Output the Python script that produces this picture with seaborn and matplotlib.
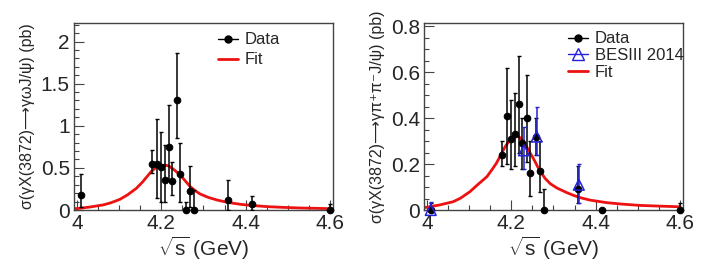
import numpy as np
import pandas as pd
import seaborn as sns
import matplotlib
matplotlib.use("Agg")
import matplotlib.pyplot as plt
from matplotlib.lines import Line2D
from matplotlib.ticker import MultipleLocator, FormatStrFormatter

# --- left panel: gamma omega J/psi ---
E_left = [4.009, 4.178, 4.189, 4.199, 4.209, 4.219, 4.226, 4.236, 4.244, 4.258, 4.267, 4.278, 4.358, 4.416, 4.600]
y_left = [0.18, 0.55, 0.55, 0.51, 0.36, 0.75, 0.34, 1.30, 0.43, 0.00, 0.23, 0.00, 0.12, 0.07, 0.00]
hi_left = [0.43, 0.71, 1.08, 0.93, 0.77, 1.25, 0.57, 1.86, 0.80, 0.10, 0.52, 0.24, 0.36, 0.17, 0.07]
lo_left = [0.04, 0.44, 0.14, 0.09, 0.09, 0.35, 0.18, 0.85, 0.10, 0.00, 0.04, 0.00, 0.00, 0.00, 0.00]

fit_x_left = [3.99, 4.007, 4.03, 4.062, 4.08, 4.102, 4.12, 4.141, 4.155, 4.165, 4.175, 4.185, 4.192, 4.2,
              4.207, 4.214, 4.22, 4.226, 4.232, 4.238, 4.244, 4.25, 4.256, 4.262, 4.268, 4.28, 4.292,
              4.311, 4.331, 4.35, 4.371, 4.39, 4.41, 4.45, 4.49, 4.529, 4.6]
fit_y_left = [0.015, 0.02, 0.035, 0.06, 0.085, 0.127, 0.18, 0.258, 0.33, 0.39, 0.45, 0.495, 0.515, 0.528,
              0.532, 0.528, 0.515, 0.495, 0.47, 0.445, 0.415, 0.385, 0.35, 0.315, 0.28, 0.23, 0.19,
              0.15, 0.12, 0.098, 0.08, 0.066, 0.056, 0.04, 0.031, 0.024, 0.016]

# --- right panel: gamma pi+ pi- J/psi ---
E_right = [4.009, 4.178, 4.189, 4.199, 4.209, 4.219, 4.226, 4.236, 4.244, 4.258, 4.267, 4.278, 4.358, 4.416, 4.600]
y_right = [0.00, 0.24, 0.41, 0.31, 0.33, 0.46, 0.29, 0.40, 0.16, 0.32, 0.17, 0.00, 0.09, 0.00, 0.00]
hi_right = [0.03, 0.30, 0.62, 0.48, 0.51, 0.67, 0.40, 0.59, 0.30, 0.40, 0.30, 0.09, 0.19, 0.00, 0.03]
lo_right = [0.00, 0.19, 0.20, 0.18, 0.19, 0.25, 0.18, 0.21, 0.06, 0.24, 0.08, 0.00, 0.03, 0.00, 0.00]

E_bes = [4.009, 4.230, 4.260, 4.360]
y_bes = [0.00, 0.26, 0.32, 0.11]
hi_bes = [0.035, 0.36, 0.45, 0.20]
lo_bes = [-0.03, 0.18, 0.24, 0.03]

fit_x_right = [3.99, 4.0, 4.03, 4.062, 4.08, 4.102, 4.12, 4.142, 4.155, 4.165, 4.175, 4.185, 4.192, 4.2,
               4.207, 4.214, 4.22, 4.226, 4.232, 4.238, 4.244, 4.25, 4.256, 4.262, 4.268, 4.28, 4.292,
               4.308, 4.33, 4.347, 4.365, 4.387, 4.426, 4.46, 4.505, 4.55, 4.6]
fit_y_right = [0.01, 0.012, 0.022, 0.036, 0.052, 0.08, 0.11, 0.145, 0.178, 0.205, 0.24, 0.275, 0.293, 0.31,
               0.325, 0.324, 0.316, 0.303, 0.288, 0.27, 0.25, 0.232, 0.212, 0.19, 0.17, 0.138, 0.115,
               0.096, 0.077, 0.064, 0.053, 0.043, 0.032, 0.026, 0.02, 0.017, 0.014]

sns.set_style("ticks")
plt.rcParams['font.family'] = ['Liberation Sans', 'DejaVu Sans']
plt.rcParams['mathtext.fontset'] = 'custom'
plt.rcParams['mathtext.rm'] = 'Liberation Sans'
plt.rcParams['mathtext.it'] = 'Liberation Sans'

fig = plt.figure(figsize=(7.05, 2.73), dpi=100)
ax1 = fig.add_axes([74 / 705, 63 / 273, 259 / 705, 187 / 273])
ax2 = fig.add_axes([424 / 705, 63 / 273, 259 / 705, 187 / 273])

RED = "#ee1111"
BLUE = "#2222dd"


def draw_points(ax, x, y, lo, hi, color, marker, filled, ms):
    y = np.array(y)
    yerr = [y - np.array(lo), np.array(hi) - y]
    ax.errorbar(x, y, yerr=yerr, fmt="none", ecolor=color, elinewidth=1.1,
                capsize=1.5, capthick=1, zorder=3)
    df = pd.DataFrame({"E": x, "sigma": y})
    sns.scatterplot(data=df, x="E", y="sigma", ax=ax, marker=marker, s=ms,
                    color=color if filled else "none", edgecolor=color,
                    linewidth=0.8 if filled else 1.1, zorder=4, clip_on=False, legend=False)


def style_axis(ax, ymax, ymajor, yminor, ylabel):
    ax.set_xlim(3.993, 4.607)
    ax.set_ylim(0, ymax)
    ax.xaxis.set_major_locator(MultipleLocator(0.2))
    ax.xaxis.set_minor_locator(MultipleLocator(0.05))
    ax.yaxis.set_major_locator(MultipleLocator(ymajor))
    ax.yaxis.set_minor_locator(MultipleLocator(yminor))
    ax.xaxis.set_major_formatter(FormatStrFormatter('%g'))
    ax.yaxis.set_major_formatter(FormatStrFormatter('%g'))
    ax.tick_params(which="both", direction="in", top=False, right=False, labelsize=15, width=0.8, color="#444444")
    ax.tick_params(which="major", length=7, pad=3)
    ax.tick_params(which="minor", length=3.5)
    for s in ax.spines.values():
        s.set_color("#444444")
        s.set_linewidth(1)
    ax.set_xlabel(r"$\sqrt{\mathrm{s}}$ (GeV)", fontsize=15, labelpad=1)
    ax.set_ylabel(ylabel, fontsize=11.5, labelpad=4)


h_data = Line2D([], [], color="black", marker="o", ms=5, lw=1)
h_bes = Line2D([], [], color=BLUE, marker="^", ms=8, mfc="none", lw=1)
h_fit = Line2D([], [], color=RED, lw=2)

# left
draw_points(ax1, E_left, y_left, lo_left, hi_left, "black", "o", True, 22)
sns.lineplot(x=fit_x_left, y=fit_y_left, ax=ax1, color=RED, lw=2, zorder=2)
style_axis(ax1, 2.22, 0.5, 0.1, "σ(γX(3872)⟶γωJ/ψ) (pb)")
ax1.legend([h_data, h_fit], ["Data", "Fit"], loc="upper left", bbox_to_anchor=(0.556, 0.95),
           frameon=False, fontsize=12, handlelength=1.2, handletextpad=0.4, labelspacing=0.3,
           borderpad=0, borderaxespad=0)

# right
draw_points(ax2, E_right, y_right, lo_right, hi_right, "black", "o", True, 22)
draw_points(ax2, E_bes, y_bes, lo_bes, hi_bes, BLUE, "^", False, 60)
sns.lineplot(x=fit_x_right, y=fit_y_right, ax=ax2, color=RED, lw=2, zorder=2)
style_axis(ax2, 0.815, 0.2, 0.05, "σ(γX(3872)⟶γπ⁺π⁻J/ψ) (pb)")
ax2.legend([h_data, h_bes, h_fit], ["Data", "BESIII 2014", "Fit"], loc="upper left",
           bbox_to_anchor=(0.556, 0.955), frameon=False, fontsize=12, handlelength=1.2,
           handletextpad=0.4, labelspacing=0.1, borderpad=0, borderaxespad=0)

fig.savefig("out.png", dpi=100)
